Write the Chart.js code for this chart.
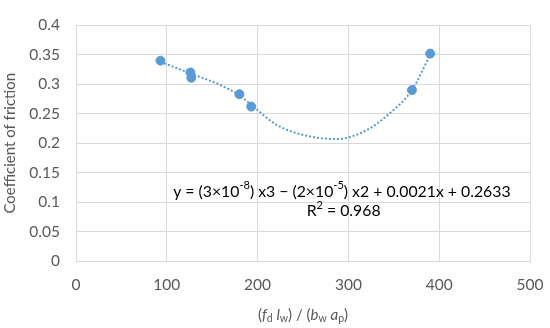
<!DOCTYPE html>
<html>
<head>
<meta charset="utf-8">
<script src="https://cdn.jsdelivr.net/npm/chart.js@4"></script>
<style>
  body { margin: 0; background: #fff; }
  #wrap { width: 550px; height: 328px; }
</style>
</head>
<body>
<div id="wrap"><canvas id="frictionChart" width="550" height="328"></canvas></div>
<script>
// measured points
const xValues = [93, 126, 127, 180, 193, 370, 390];
const yValues = [0.34, 0.32, 0.311, 0.283, 0.262, 0.29, 0.352];

// cubic trendline
const trendX = [93, 130, 160, 180, 193, 220, 250, 287, 320, 345, 370, 390];
const trendY = [0.338, 0.316, 0.298, 0.281, 0.265, 0.232, 0.214, 0.207, 0.222, 0.25, 0.29, 0.35];

const xTicks = [0, 100, 200, 300, 400, 500];
const yTicks = [0, 0.05, 0.1, 0.15, 0.2, 0.25, 0.3, 0.35, 0.4];

const blue = "#5b9bd5";
const gridColor = "#d9d9d9";
const FONT = "Lato";

// draw a line of text made of pieces (normal / sup / sub, italic)
function drawRich(ctx, parts, x, y, size, align) {
  const fontFor = (p) => {
    const s = p.s === "sup" || p.s === "sub" ? size * 0.7 : size;
    return (p.i ? "italic " : "") + s + "px " + FONT;
  };
  let total = 0;
  parts.forEach((p) => {
    ctx.font = fontFor(p);
    total += ctx.measureText(p.t).width;
  });
  let cx = align === "center" ? x - total / 2 : x;
  parts.forEach((p) => {
    ctx.font = fontFor(p);
    let dy = 0;
    if (p.s === "sup") dy = -size * 0.4;
    if (p.s === "sub") dy = size * 0.25;
    ctx.fillText(p.t, cx, y + dy);
    cx += ctx.measureText(p.t).width;
  });
}

const textPlugin = {
  id: "textPlugin",
  afterDraw(chart) {
    const ctx = chart.ctx;
    const xs = chart.scales.x;
    const ys = chart.scales.y;
    ctx.save();
    ctx.textBaseline = "middle";
    ctx.textAlign = "left";

    // trendline equation
    ctx.fillStyle = "#000";
    drawRich(ctx, [
      { t: "y = (3×10" }, { t: "-8", s: "sup" },
      { t: ") x3 − (2×10" }, { t: "-5", s: "sup" },
      { t: ") x2 + 0.0021x + 0.2633" },
    ], xs.getPixelForValue(107), ys.getPixelForValue(0.118), 15.8, "left");
    drawRich(ctx, [
      { t: "R" }, { t: "2", s: "sup" }, { t: " = 0.968" },
    ], xs.getPixelForValue(254), ys.getPixelForValue(0.0844), 15.8, "left");

    // x axis title with subscripts
    ctx.fillStyle = "#595959";
    const midX = (chart.chartArea.left + chart.chartArea.right) / 2;
    drawRich(ctx, [
      { t: "(" }, { t: "f", i: true }, { t: "d", s: "sub" }, { t: " " },
      { t: "l", i: true }, { t: "w", s: "sub" }, { t: ") / (" },
      { t: "b", i: true }, { t: "w", s: "sub" }, { t: " " },
      { t: "a", i: true }, { t: "p", s: "sub" }, { t: ")" },
    ], midX, 315, 15, "center");
    ctx.restore();
  },
};

new Chart(document.getElementById("frictionChart"), {
  type: "scatter",
  data: {
    datasets: [
      {
        label: "Trend",
        data: trendX.map((x, i) => ({ x: x, y: trendY[i] })),
        showLine: true,
        borderColor: blue,
        borderWidth: 2,
        borderDash: [2, 2],
        pointRadius: 0,
        tension: 0.4,
        cubicInterpolationMode: "monotone",
        order: 2,
      },
      {
        label: "Data",
        data: xValues.map((x, i) => ({ x: x, y: yValues[i] })),
        backgroundColor: blue,
        borderColor: blue,
        pointRadius: 4.5,
        order: 1,
      },
    ],
  },
  options: {
    responsive: false,
    animation: false,
    layout: { padding: { top: 12, right: 20, left: 0, bottom: 0 } },
    scales: {
      x: {
        type: "linear",
        min: 0,
        max: 500,
        afterBuildTicks: (s) => { s.ticks = xTicks.map((v) => ({ value: v })); },
        afterFit: (s) => { s.height = 67; s.paddingRight = 0; },
        ticks: {
          color: "#595959",
          font: { family: FONT, size: 15.5 },
          padding: 15,
        },
        grid: { color: gridColor, drawTicks: false },
        border: { color: gridColor },
      },
      y: {
        min: 0,
        max: 0.4,
        afterBuildTicks: (s) => { s.ticks = yTicks.map((v) => ({ value: v })); },
        afterFit: (s) => { s.width = 76; },
        ticks: {
          color: "#595959",
          font: { family: FONT, size: 15.5 },
          padding: 16,
          callback: (v) => String(Math.round(v * 100) / 100),
        },
        title: {
          display: true,
          text: "Coefficient of friction",
          color: "#595959",
          font: { family: FONT, size: 15 },
          padding: 1,
        },
        grid: { color: gridColor, drawTicks: false },
        border: { color: gridColor },
      },
    },
    plugins: {
      legend: { display: false },
      tooltip: { enabled: false },
    },
  },
  plugins: [textPlugin],
});
</script>
</body>
</html>
